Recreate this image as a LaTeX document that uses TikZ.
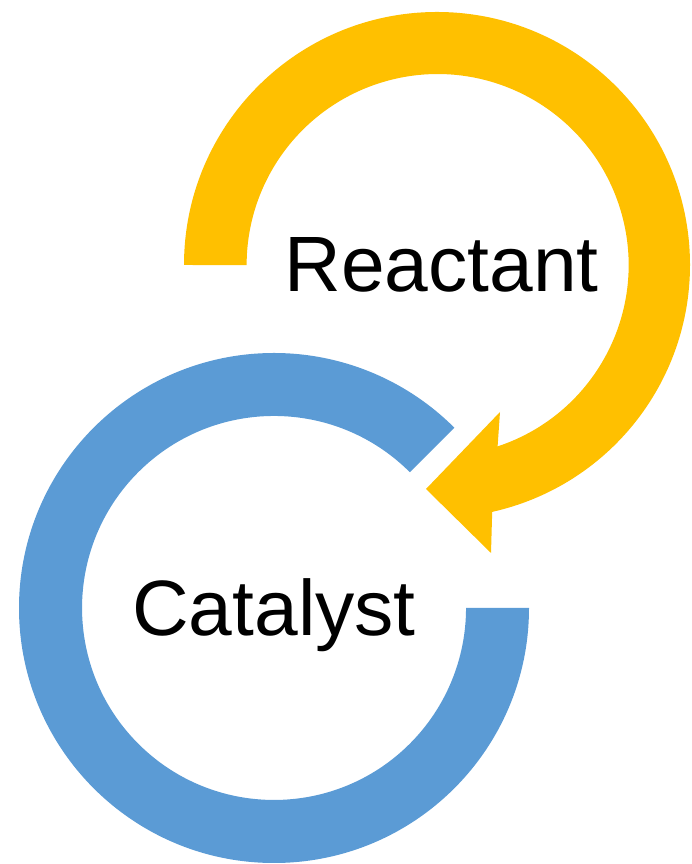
\documentclass[tikz,border=0pt]{standalone}
\usepackage{fontspec}
\setmainfont{Liberation Sans}
\definecolor{yel}{HTML}{FFC000}
\definecolor{blu}{HTML}{5B9BD5}
\begin{document}
\begin{tikzpicture}[x=1pt,y=1pt,
  lbl/.style={inner sep=0pt,anchor=base,font=\fontsize{78.5}{78.5}\selectfont}]
\useasboundingbox (0,0) rectangle (691,864);
% yellow circular arrow
\fill[yel] (184,599) arc[start angle=180,end angle=-77.4,radius=253]
  -- (491,311) -- (426,375) -- (500,452) -- (497.6,417.6)
  arc[start angle=-71.7,end angle=180,radius=191] -- cycle;
% blue open ring
\fill[blu] (529,256) arc[start angle=0,end angle=-315,radius=255]
  -- (409.8,391.8) arc[start angle=45,end angle=360,radius=192] -- cycle;
\node[lbl] (reactant) at (441.5,572.5) {Reactant};
\node[lbl] (catalyst) at (274,228) {Catalyst};
\end{tikzpicture}
\end{document}
